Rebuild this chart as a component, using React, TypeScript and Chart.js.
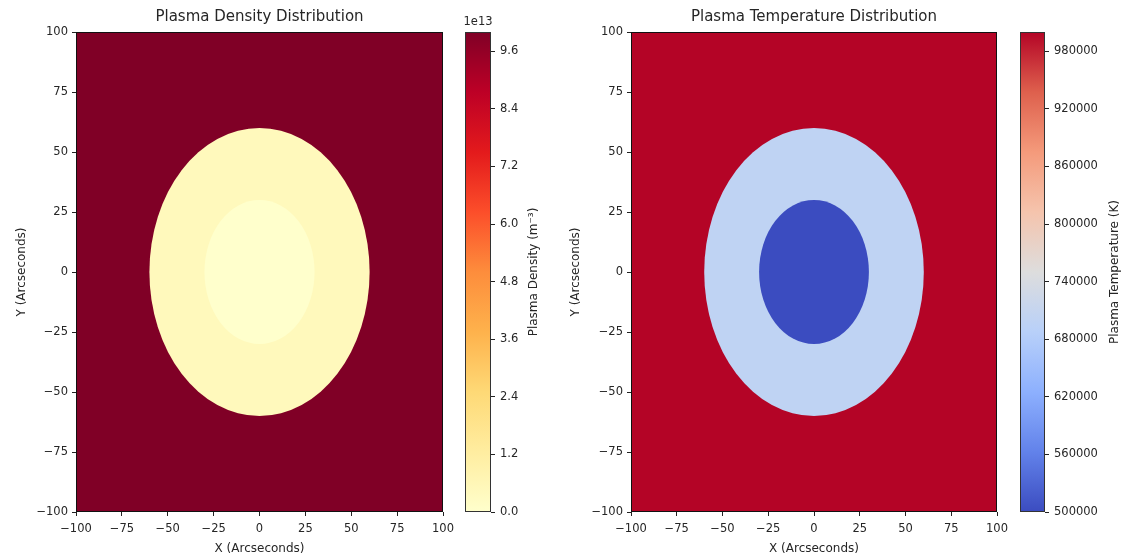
import React, { useEffect, useRef } from "react";
import { Chart, registerables } from "chart.js";

Chart.register(...registerables);

// ---------------- data ----------------
const axisTicks = [-100, -75, -50, -25, 0, 25, 50, 75, 100];
const axisRange = [-100, 100];
// circular regions centred on (0, 0): outer shell radius, inner core radius (arcsec)
const regionRadii = [60, 30];
// values: background, shell, core
const densityLevels = [1.0e14, 4.5e12, 1.0e11];
const temperatureLevels = [1.0e6, 7.0e5, 5.0e5];
const densityRange = [0, 1.0e14];
const temperatureRange = [5.0e5, 1.0e6];
const densityTicks = [0, 1.2e13, 2.4e13, 3.6e13, 4.8e13, 6.0e13, 7.2e13, 8.4e13, 9.6e13];
const temperatureTicks = [500000, 560000, 620000, 680000, 740000, 800000, 860000, 920000, 980000];
const densityOffsetText = "1e13";
const panelTitles = ["Plasma Density Distribution", "Plasma Temperature Distribution"];
const xAxisLabel = "X (Arcseconds)";
const yAxisLabel = "Y (Arcseconds)";
const colorbarLabels = ["Plasma Density (m\u207B\u00B3)", "Plasma Temperature (K)"];

// ---------------- colormaps ----------------
const YLORRD = ["#ffffcc", "#ffeda0", "#fed976", "#feb24c", "#fd8d3c", "#fc4e2a", "#e31a1c", "#bd0026", "#800026"];
const COOLWARM = ["#3b4cc0", "#6282ea", "#8db0fe", "#b8d0f9", "#dddddd", "#f5c4ad", "#f49a7b", "#de604d", "#b40426"];

function hexToRgb(h: string) {
  const n = parseInt(h.slice(1), 16);
  return [(n >> 16) & 255, (n >> 8) & 255, n & 255];
}
function sample(cmap: string[], t: number) {
  const tt = Math.max(0, Math.min(1, t)) * (cmap.length - 1);
  const i = Math.min(cmap.length - 2, Math.floor(tt));
  const f = tt - i;
  const a = hexToRgb(cmap[i]);
  const b = hexToRgb(cmap[i + 1]);
  const c = a.map((v, k) => Math.round(v + (b[k] - v) * f));
  return `rgb(${c[0]},${c[1]},${c[2]})`;
}

// ---------------- layout ----------------
const H = 559;
const AREA_TOP = 32;
const AREA_BOTTOM = 512;
const FONT = '"DejaVu Sans", "Liberation Sans", sans-serif';
const TEXT = "#262626";
const TICK_SIZE = 11.5;
const LABEL_SIZE = 12;
const TITLE_SIZE = 15;

const fmtAxis = (v: number) => (v < 0 ? "\u2212" + Math.abs(v) : String(v));

type MapSpec = {
  levels: number[];
  range: number[];
  cmap: string[];
  title: string;
  canvasLeft: number;
  canvasWidth: number;
  areaLeft: number;
  areaRight: number;
  yLabelX: number;
};

function mapConfig(p: MapSpec): any {
  const color = (v: number) => sample(p.cmap, (v - p.range[0]) / (p.range[1] - p.range[0]));
  const regionPlugin = {
    id: "regions",
    beforeDatasetsDraw(chart: any) {
      const { ctx, chartArea: a, scales } = chart;
      const x = scales.x;
      const y = scales.y;
      ctx.save();
      ctx.beginPath();
      ctx.rect(a.left, a.top, a.right - a.left, a.bottom - a.top);
      ctx.clip();
      ctx.fillStyle = color(p.levels[0]);
      ctx.fillRect(a.left, a.top, a.right - a.left, a.bottom - a.top);
      const cx = x.getPixelForValue(0);
      const cy = y.getPixelForValue(0);
      regionRadii.forEach((r, i) => {
        const rx = x.getPixelForValue(r) - cx;
        const ry = cy - y.getPixelForValue(r);
        ctx.beginPath();
        ctx.ellipse(cx, cy, rx, ry, 0, 0, Math.PI * 2);
        ctx.fillStyle = color(p.levels[i + 1]);
        ctx.fill();
      });
      ctx.restore();
    },
    afterDraw(chart: any) {
      const { ctx, chartArea: a } = chart;
      ctx.save();
      ctx.strokeStyle = "#111";
      ctx.lineWidth = 1;
      ctx.strokeRect(Math.round(a.left) + 0.5, Math.round(a.top) + 0.5, Math.round(a.right - a.left) - 1, Math.round(a.bottom - a.top) - 1);
      ctx.fillStyle = TEXT;
      ctx.textAlign = "center";
      ctx.textBaseline = "middle";
      const mid = (a.left + a.right) / 2;
      ctx.font = `${TITLE_SIZE}px ${FONT}`;
      ctx.fillText(p.title, mid, 17);
      ctx.font = `${LABEL_SIZE}px ${FONT}`;
      ctx.fillText(xAxisLabel, mid, 549);
      ctx.translate(p.yLabelX - p.canvasLeft, (AREA_TOP + AREA_BOTTOM) / 2);
      ctx.rotate(-Math.PI / 2);
      ctx.fillText(yAxisLabel, 0, 0);
      ctx.restore();
    },
  };
  const tickFont = { family: FONT, size: TICK_SIZE };
  return {
    type: "scatter",
    data: { datasets: [] },
    options: {
      responsive: false,
      animation: false,
      devicePixelRatio: 1,
      layout: { padding: { top: AREA_TOP, bottom: 0, left: 0, right: p.canvasLeft + p.canvasWidth - p.areaRight } },
      plugins: { legend: { display: false }, tooltip: { enabled: false }, title: { display: false } },
      scales: {
        x: {
          type: "linear",
          position: "bottom",
          min: axisRange[0],
          max: axisRange[1],
          afterBuildTicks: (s: any) => {
            s.ticks = axisTicks.map((v) => ({ value: v }));
          },
          ticks: { font: tickFont, color: TEXT, padding: 6, autoSkip: false, maxRotation: 0, callback: (v: any) => fmtAxis(Number(v)) },
          grid: { drawOnChartArea: false, drawTicks: true, tickLength: 4, color: "#222" },
          border: { display: false },
          afterFit: (s: any) => {
            s.height = H - AREA_BOTTOM;
          },
        },
        y: {
          type: "linear",
          position: "left",
          min: axisRange[0],
          max: axisRange[1],
          afterBuildTicks: (s: any) => {
            s.ticks = axisTicks.map((v) => ({ value: v }));
          },
          ticks: { font: tickFont, color: TEXT, padding: 4, autoSkip: false, callback: (v: any) => fmtAxis(Number(v)) },
          grid: { drawOnChartArea: false, drawTicks: true, tickLength: 4, color: "#222" },
          border: { display: false },
          afterFit: (s: any) => {
            s.width = p.areaLeft - p.canvasLeft;
          },
        },
      },
    },
    plugins: [regionPlugin],
  };
}

type BarSpec = {
  range: number[];
  ticks: number[];
  cmap: string[];
  label: string;
  offsetText: string;
  format: (v: number) => string;
  canvasLeft: number;
  canvasWidth: number;
  areaLeft: number;
  areaRight: number;
  labelX: number;
};

function colorbarConfig(p: BarSpec): any {
  const barPlugin = {
    id: "colorbar",
    beforeDatasetsDraw(chart: any) {
      const { ctx, chartArea: a, scales } = chart;
      const y = scales.y;
      const y0 = y.getPixelForValue(p.range[0]);
      const y1 = y.getPixelForValue(p.range[1]);
      const g = ctx.createLinearGradient(0, y0, 0, y1);
      p.cmap.forEach((c, i) => g.addColorStop(i / (p.cmap.length - 1), c));
      ctx.save();
      ctx.fillStyle = g;
      ctx.fillRect(a.left, a.top, a.right - a.left, a.bottom - a.top);
      ctx.restore();
    },
    afterDraw(chart: any) {
      const { ctx, chartArea: a } = chart;
      ctx.save();
      ctx.strokeStyle = "#333";
      ctx.lineWidth = 1;
      ctx.strokeRect(Math.round(a.left) + 0.5, Math.round(a.top) + 0.5, Math.round(a.right - a.left) - 1, Math.round(a.bottom - a.top) - 1);
      ctx.fillStyle = TEXT;
      ctx.textAlign = "center";
      ctx.textBaseline = "middle";
      ctx.font = `${TICK_SIZE}px ${FONT}`;
      if (p.offsetText) ctx.fillText(p.offsetText, (a.left + a.right) / 2, 22);
      ctx.font = `${LABEL_SIZE}px ${FONT}`;
      ctx.translate(p.labelX - p.canvasLeft, (AREA_TOP + AREA_BOTTOM) / 2);
      ctx.rotate(-Math.PI / 2);
      ctx.fillText(p.label, 0, 0);
      ctx.restore();
    },
  };
  return {
    type: "scatter",
    data: { datasets: [] },
    options: {
      responsive: false,
      animation: false,
      devicePixelRatio: 1,
      layout: { padding: { top: AREA_TOP, bottom: H - AREA_BOTTOM, left: p.areaLeft - p.canvasLeft, right: 0 } },
      plugins: { legend: { display: false }, tooltip: { enabled: false }, title: { display: false } },
      scales: {
        x: { type: "linear", display: false, min: 0, max: 1 },
        y: {
          type: "linear",
          position: "right",
          min: p.range[0],
          max: p.range[1],
          afterBuildTicks: (s: any) => {
            s.ticks = p.ticks.map((v) => ({ value: v }));
          },
          ticks: { font: { family: FONT, size: TICK_SIZE }, color: TEXT, padding: 5, autoSkip: false, callback: (v: any) => p.format(Number(v)) },
          grid: { drawOnChartArea: false, drawTicks: true, tickLength: 4, color: "#222" },
          border: { display: false },
          afterFit: (s: any) => {
            s.width = p.canvasLeft + p.canvasWidth - p.areaRight;
          },
        },
      },
    },
    plugins: [barPlugin],
  };
}

export default function App() {
  const c1 = useRef<HTMLCanvasElement>(null);
  const c2 = useRef<HTMLCanvasElement>(null);
  const c3 = useRef<HTMLCanvasElement>(null);
  const c4 = useRef<HTMLCanvasElement>(null);

  useEffect(() => {
    const charts = [
      new Chart(
        c1.current as HTMLCanvasElement,
        mapConfig({
          levels: densityLevels,
          range: densityRange,
          cmap: YLORRD,
          title: panelTitles[0],
          canvasLeft: 0,
          canvasWidth: 460,
          areaLeft: 76,
          areaRight: 444,
          yLabelX: 22,
        })
      ),
      new Chart(
        c2.current as HTMLCanvasElement,
        colorbarConfig({
          range: densityRange,
          ticks: densityTicks,
          cmap: YLORRD,
          label: colorbarLabels[0],
          offsetText: densityOffsetText,
          format: (v) => (v / 1e13).toFixed(1),
          canvasLeft: 440,
          canvasWidth: 120,
          areaLeft: 465,
          areaRight: 491,
          labelX: 534,
        })
      ),
      new Chart(
        c3.current as HTMLCanvasElement,
        mapConfig({
          levels: temperatureLevels,
          range: temperatureRange,
          cmap: COOLWARM,
          title: panelTitles[1],
          canvasLeft: 560,
          canvasWidth: 460,
          areaLeft: 631,
          areaRight: 997,
          yLabelX: 576,
        })
      ),
      new Chart(
        c4.current as HTMLCanvasElement,
        colorbarConfig({
          range: temperatureRange,
          ticks: temperatureTicks,
          cmap: COOLWARM,
          label: colorbarLabels[1],
          offsetText: "",
          format: (v) => String(Math.round(v)),
          canvasLeft: 995,
          canvasWidth: 129,
          areaLeft: 1020,
          areaRight: 1045,
          labelX: 1115,
        })
      ),
    ];
    return () => charts.forEach((c) => c.destroy());
  }, []);

  const abs = (left: number): React.CSSProperties => ({ position: "absolute", left, top: 0 });
  return (
    <div style={{ position: "absolute", left: 0, top: 0, width: 1124, height: 559, background: "#fff", overflow: "hidden" }}>
      <canvas ref={c1} width={460} height={559} style={abs(0)} />
      <canvas ref={c2} width={120} height={559} style={abs(440)} />
      <canvas ref={c3} width={460} height={559} style={abs(560)} />
      <canvas ref={c4} width={129} height={559} style={abs(995)} />
    </div>
  );
}
